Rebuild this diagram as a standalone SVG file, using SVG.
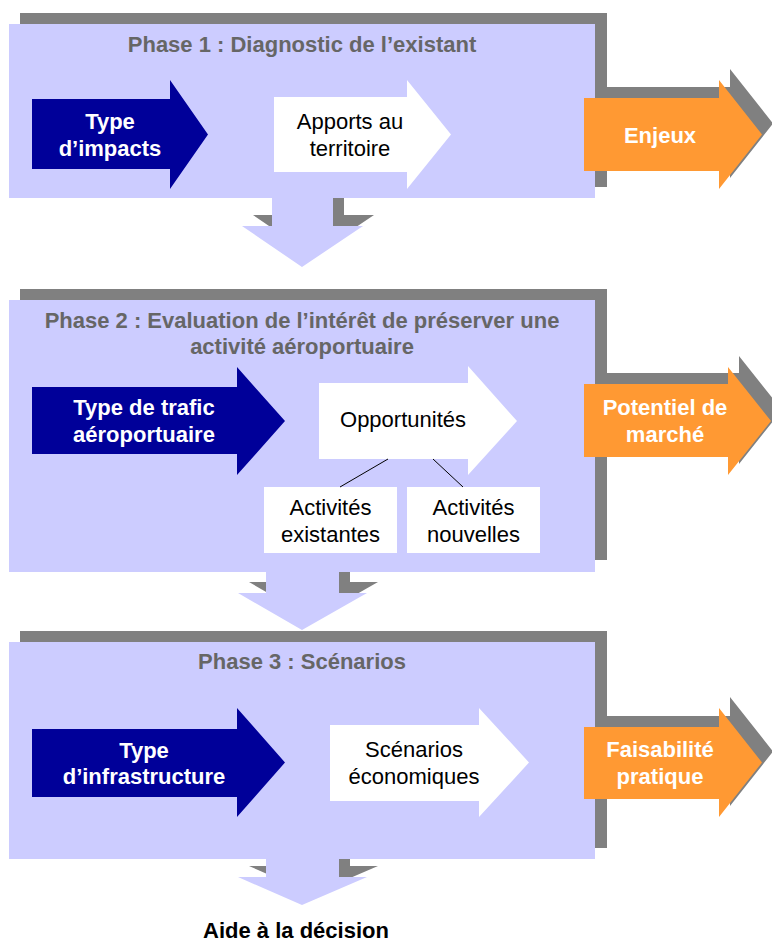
<svg xmlns="http://www.w3.org/2000/svg" width="772" height="945" viewBox="0 0 772 945">
<style>
.sh{fill:#808080}
.box{fill:#CCCCFF}
.navy{fill:#000099}
.wht{fill:#FFFFFF}
.org{fill:#FF9933}
.t{font-family:"Liberation Sans",Arial,sans-serif;font-size:22px;text-anchor:middle}
.title{font-weight:bold;fill:#666666}
.bw{font-weight:bold;fill:#FFFFFF}
.rk{fill:#000000}
.bk{font-weight:bold;fill:#000000}
.ln{stroke:#000000;stroke-width:1;fill:none}
</style>
<defs>
<polygon id="down1" points="272,198 333,198 333,226 363,226 302,267 242,226 272,226"/>
<polygon id="down2" points="266,572 339,572 339,593 367,593 302,630 238,593 266,593"/>
<polygon id="down3" points="266,859 339,859 339,877 367,877 302,905 238,877 266,877"/>
<polygon id="or1" points="584,98 719,98 719,80 762,134.5 719,189 719,171 584,171"/>
<polygon id="or2" points="584,384 728,384 728,367 771,421 728,475 728,457 584,457"/>
<polygon id="or3" points="584,727 719,727 719,708 762,762.5 719,817 719,799 584,799"/>
</defs>

<g id="connectors">
<use href="#down1" class="sh" transform="translate(11,-11)"/>
<use href="#down2" class="sh" transform="translate(11,-11)"/>
<use href="#down3" class="sh" transform="translate(11,-11)"/>
</g>

<g id="phase1">
<rect class="sh" x="20" y="13" width="587" height="174"/>
<rect class="box" x="9" y="24" width="586" height="174"/>
<text class="t title" x="302" y="52">Phase 1 : Diagnostic de l’existant</text>
</g>
<g id="type-impacts">
<polygon class="navy" points="32,99 170,99 170,80 208,134.5 170,189 170,169 32,169"/>
<text class="t bw" x="110" y="129">Type</text>
<text class="t bw" x="110" y="156">d’impacts</text>
</g>
<g id="apports">
<polygon class="wht" points="274,97 407,97 407,80 451,134.5 407,189 407,172 274,172"/>
<text class="t rk" x="350" y="129">Apports au</text>
<text class="t rk" x="350" y="156">territoire</text>
</g>
<g id="enjeux">
<use href="#or1" class="sh" transform="translate(11,-11)"/>
<use href="#or1" class="org"/>
<text class="t bw" x="660" y="143">Enjeux</text>
</g>

<g id="phase2">
<rect class="sh" x="20" y="289" width="587" height="271"/>
<rect class="box" x="9" y="300" width="586" height="272"/>
<text class="t title" x="302" y="328">Phase 2 : Evaluation de l’intérêt de préserver une</text>
<text class="t title" x="302" y="354">activité aéroportuaire</text>
</g>
<g id="type-trafic">
<polygon class="navy" points="32,387 237,387 237,367 285,421 237,475 237,454 32,454"/>
<text class="t bw" x="144" y="415">Type de trafic</text>
<text class="t bw" x="144" y="442">aéroportuaire</text>
</g>
<g id="opportunites">
<polygon class="wht" points="319,383 468,383 468,366 517,421 468,475 468,459 319,459"/>
<text class="t rk" x="403" y="427">Opportunités</text>
</g>
<g id="activites-existantes">
<rect class="wht" x="264" y="487" width="133" height="66"/>
<text class="t rk" x="330.5" y="515">Activités</text>
<text class="t rk" x="330.5" y="542">existantes</text>
</g>
<g id="activites-nouvelles">
<rect class="wht" x="407" y="487" width="133" height="66"/>
<text class="t rk" x="473.5" y="515">Activités</text>
<text class="t rk" x="473.5" y="542">nouvelles</text>
</g>
<g id="potentiel">
<use href="#or2" class="sh" transform="translate(11,-11)"/>
<use href="#or2" class="org"/>
<text class="t bw" x="665" y="415">Potentiel de</text>
<text class="t bw" x="665" y="442">marché</text>
</g>

<g id="phase3">
<rect class="sh" x="20" y="631" width="587" height="217"/>
<rect class="box" x="9" y="642" width="586" height="217"/>
<text class="t title" x="302" y="669">Phase 3 : Scénarios</text>
</g>
<g id="type-infra">
<polygon class="navy" points="32,729 237,729 237,708 285,762.5 237,817 237,797 32,797"/>
<text class="t bw" x="144" y="758">Type</text>
<text class="t bw" x="144" y="784">d’infrastructure</text>
</g>
<g id="scenarios-eco">
<polygon class="wht" points="330,725 479,725 479,708 529,762.5 479,817 479,801 330,801"/>
<text class="t rk" x="414" y="757">Scénarios</text>
<text class="t rk" x="414" y="784">économiques</text>
</g>
<g id="faisabilite">
<use href="#or3" class="sh" transform="translate(11,-11)"/>
<use href="#or3" class="org"/>
<text class="t bw" x="660" y="757">Faisabilité</text>
<text class="t bw" x="660" y="784">pratique</text>
</g>

<g id="connectors-front">
<use href="#down1" class="box"/>
<use href="#down2" class="box"/>
<use href="#down3" class="box"/>
<line class="ln" x1="388" y1="459" x2="340" y2="487"/>
<line class="ln" x1="433" y1="459" x2="463" y2="487"/>
</g>

<g id="aide">
<text class="t bk" x="296" y="938">Aide à la décision</text>
</g>
</svg>
